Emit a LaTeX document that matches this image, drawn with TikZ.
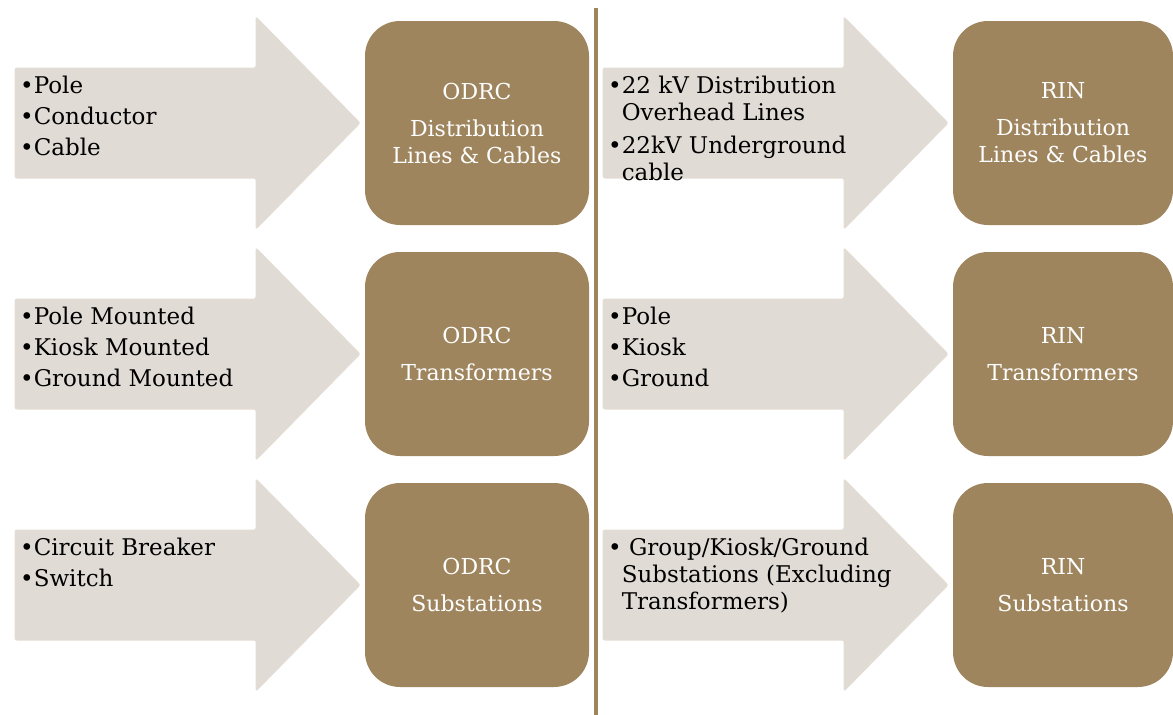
\documentclass[tikz,border=0pt]{standalone}
\usepackage{fontspec}
\setmainfont{DejaVu Serif}
\usetikzlibrary{positioning}

\definecolor{boxbrown}{RGB}{158,133,94}
\definecolor{arrowgrey}{RGB}{224,219,213}
\definecolor{arrowedge}{RGB}{228,221,212}

\begin{document}
\begin{tikzpicture}[x=1pt, y=-1pt, node distance=231pt,
  asset/.style={rectangle, rounded corners=35pt, fill=boxbrown, text=white,
    minimum width=224pt, minimum height=204pt, inner sep=0pt, align=center,
    font=\fontsize{22}{27}\selectfont},
  items/.style={anchor=north west, inner sep=0pt, align=left,
    font=\fontsize{23}{27}\selectfont, execute at begin node={\rule{0pt}{18pt}}},
  bigarrow/.style={fill=arrowgrey, draw=arrowedge, line width=1pt, rounded corners=2pt}]

  \useasboundingbox (0,0) rectangle (1173,715);

  % block arrows, both columns
  \foreach \y in {123,354,585}{
    \draw[bigarrow] (15,\y-55) -- (256,\y-55) -- (256,\y-106) -- (360,\y)
      -- (256,\y+106) -- (256,\y+55) -- (15,\y+55) -- cycle;
    \draw[bigarrow, xshift=588pt] (15,\y-55) -- (256,\y-55) -- (256,\y-106) -- (360,\y)
      -- (256,\y+106) -- (256,\y+55) -- (15,\y+55) -- cycle;
  }

  % divider
  \draw[boxbrown, line width=4pt] (596,8) -- (596,715);

  % ODRC side
  \node[asset] (odrcLines) at (477,123) {ODRC\\[10pt]Distribution\\Lines \& Cables};
  \node[asset, below of=odrcLines] (odrcTrans) {ODRC\\[10pt]Transformers};
  \node[asset, below of=odrcTrans] (odrcSubs) {ODRC\\[10pt]Substations};

  \node[items] (odrcLinesList) at (20,76) {•Pole\\[4pt]•Conductor\\[4pt]•Cable};
  \node[items] (odrcTransList) at (20,307) {•Pole Mounted\\[4pt]•Kiosk Mounted\\[4pt]•Ground Mounted};
  \node[items] (odrcSubsList) at (20,538) {•Circuit Breaker\\[4pt]•Switch};

  % RIN side
  \node[asset, minimum width=220pt] (rinLines) at (1063,123) {RIN\\[10pt]Distribution\\Lines \& Cables};
  \node[asset, minimum width=220pt, below of=rinLines] (rinTrans) {RIN\\[10pt]Transformers};
  \node[asset, minimum width=220pt, below of=rinTrans] (rinSubs) {RIN\\[10pt]Substations};

  \begin{scope}[xshift=588pt]
    \node[items] (rinLinesList) at (20,76) {•22 kV Distribution\\\phantom{•}Overhead Lines\\[6pt]•22kV Underground\\\phantom{•}cable};
    \node[items] (rinTransList) at (20,307) {•Pole\\[4pt]•Kiosk\\[4pt]•Ground};
    \node[items] (rinSubsList) at (20,538) {• Group/Kiosk/Ground\\\phantom{•}Substations (Excluding\\\phantom{•}Transformers)};
  \end{scope}

\end{tikzpicture}
\end{document}
